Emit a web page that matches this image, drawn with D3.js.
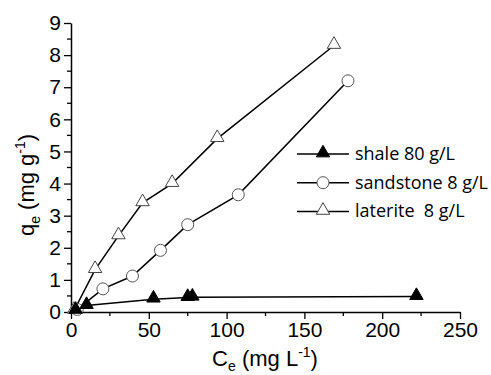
<!DOCTYPE html>
<html>
<head>
<meta charset="utf-8">
<script src="https://cdn.jsdelivr.net/npm/d3@7"></script>
<style>
  body { margin: 0; background: #fff; }
  text { font-family: "Liberation Sans", Arial, sans-serif; }
</style>
</head>
<body>
<div id="chart"></div>
<script>
    // data
    var shaleX = [3, 10, 53, 75, 78, 222];
    var shaleY = [0.05, 0.2, 0.4, 0.45, 0.46, 0.48];
    var sandX = [4, 20.5, 39.5, 57.5, 75, 107.5, 178];
    var sandY = [0.08, 0.72, 1.12, 1.92, 2.72, 3.65, 7.2];
    var latX = [2, 15.5, 30.5, 46, 65, 94, 169];
    var latY = [0.05, 1.32, 2.37, 3.4, 4.0, 5.4, 8.3];
    var xTicks = [0, 50, 100, 150, 200, 250];
    var yTicks = [0, 1, 2, 3, 4, 5, 6, 7, 8, 9];
    var legendNames = ["shale 80 g/L", "sandstone 8 g/L", "laterite  8 g/L"];

    var width = 491, height = 375;
    var margin = {left: 71, top: 23, right: 31, bottom: 63};

    var svg = d3.select("#chart").append("svg")
        .attr("width", width)
        .attr("height", height);

    var x = d3.scaleLinear().domain([0, 250]).range([margin.left, width - margin.right]);
    var y = d3.scaleLinear().domain([0, 9]).range([height - margin.bottom, margin.top]);

    function zipped(xs, ys) {
        return xs.map(function (v, i) { return [v, ys[i]]; });
    }

    var series = [
        {name: legendNames[0], data: zipped(shaleX, shaleY), shape: "tri", fill: "#000"},
        {name: legendNames[1], data: zipped(sandX, sandY), shape: "circle", fill: "#fff"},
        {name: legendNames[2], data: zipped(latX, latY), shape: "tri", fill: "#fff"}
    ];

    // axes
    var xAxis = d3.axisBottom(x).tickValues(xTicks).tickSize(7).tickSizeOuter(0).tickPadding(3);
    var yAxis = d3.axisLeft(y).tickValues(yTicks).tickSize(7).tickSizeOuter(0).tickPadding(3);

    var gx = svg.append("g")
        .attr("transform", "translate(0," + y(0) + ")")
        .call(xAxis);
    var gy = svg.append("g")
        .attr("transform", "translate(" + x(0) + ",0)")
        .call(yAxis);

    [gx, gy].forEach(function (g) {
        g.select(".domain").attr("stroke", "#000").attr("stroke-width", 1.5);
        g.selectAll(".tick line").attr("stroke", "#000").attr("stroke-width", 1.3);
        g.selectAll(".tick text").attr("font-size", 21).attr("fill", "#000")
            .style("font-family", "'Liberation Sans', Arial, sans-serif");
    });

    // minor ticks
    svg.append("g").selectAll("line")
        .data(d3.range(25, 250, 50))
        .enter().append("line")
        .attr("x1", function (d) { return x(d); })
        .attr("x2", function (d) { return x(d); })
        .attr("y1", y(0))
        .attr("y2", y(0) + 4)
        .attr("stroke", "#000").attr("stroke-width", 1.3);
    svg.append("g").selectAll("line")
        .data(d3.range(0.5, 9, 1))
        .enter().append("line")
        .attr("y1", function (d) { return y(d); })
        .attr("y2", function (d) { return y(d); })
        .attr("x1", x(0))
        .attr("x2", x(0) - 4)
        .attr("stroke", "#000").attr("stroke-width", 1.3);

    // axis titles
    var xt = svg.append("text")
        .attr("x", 265).attr("y", 366)
        .attr("text-anchor", "middle")
        .attr("font-size", 22);
    xt.append("tspan").text("C");
    xt.append("tspan").attr("font-size", 14).attr("dy", 5).text("e");
    xt.append("tspan").attr("dy", -5).text(" (mg L");
    xt.append("tspan").attr("font-size", 14).attr("dy", -9).text("-1");
    xt.append("tspan").attr("dy", 9).text(")");

    var yt = svg.append("text")
        .attr("transform", "translate(34,185) rotate(-90)")
        .attr("text-anchor", "middle")
        .attr("font-size", 22);
    yt.append("tspan").text("q");
    yt.append("tspan").attr("font-size", 14).attr("dy", 6).text("e");
    yt.append("tspan").attr("dy", -6).text(" (mg g");
    yt.append("tspan").attr("font-size", 14).attr("dy", -9).text("-1");
    yt.append("tspan").attr("dy", 9).text(")");

    var line = d3.line()
        .x(function (d) { return x(d[0]); })
        .y(function (d) { return y(d[1]); });

    var triSym = d3.symbol().type(d3.symbolTriangle).size(78);

    function drawMarker(g, s, px, py) {
        if (s.shape === "circle") {
            g.append("circle")
                .attr("cx", px).attr("cy", py).attr("r", 6)
                .attr("fill", s.fill).attr("stroke", "#555").attr("stroke-width", 1);
        } else {
            g.append("path")
                .attr("d", triSym())
                .attr("transform", "translate(" + px + "," + (py - 1) + ")")
                .attr("fill", s.fill).attr("stroke", s.fill === "#000" ? "#000" : "#444")
                .attr("stroke-width", 1);
        }
    }

    series.forEach(function (s) {
        var g = svg.append("g");
        g.append("path")
            .datum(s.data)
            .attr("d", line)
            .attr("fill", "none")
            .attr("stroke", "#000")
            .attr("stroke-width", 1.5);
    });
    // markers on top, draw in reverse so shale sits on top
    series.slice().reverse().forEach(function (s) {
        var g = svg.append("g");
        s.data.forEach(function (d) {
            drawMarker(g, s, x(d[0]), y(d[1]));
        });
    });

    // legend
    var legend = svg.append("g");
    series.forEach(function (s, i) {
        var ly = 154 + i * 28.7;
        legend.append("line")
            .attr("x1", 297).attr("x2", 349)
            .attr("y1", ly).attr("y2", ly)
            .attr("stroke", "#000").attr("stroke-width", 1.5);
        drawMarker(legend, s, 323, ly);
        legend.append("text")
            .attr("x", 355).attr("y", ly + 6)
            .attr("font-size", 18)
            .style("font-family", "'Open Sans', 'Noto Sans', sans-serif")
            .style("white-space", "pre")
            .text(s.name);
    });
</script>
</body>
</html>
